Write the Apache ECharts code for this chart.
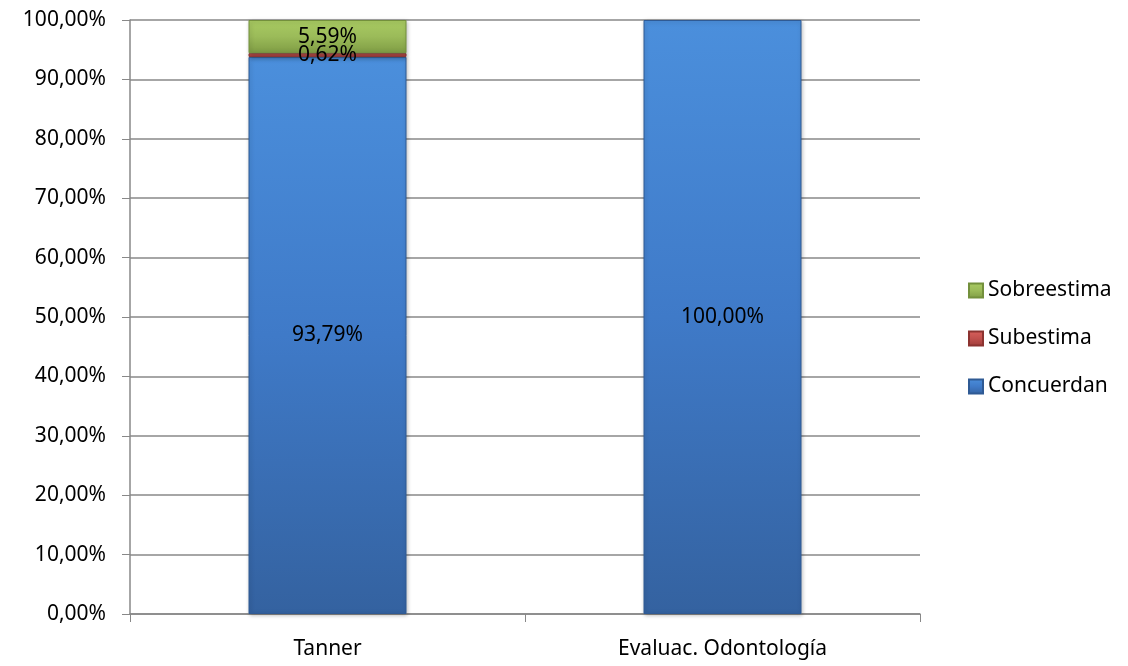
<!DOCTYPE html>
<html>
<head>
<meta charset="utf-8">
<script src="https://cdn.jsdelivr.net/npm/echarts@6/dist/echarts.min.js"></script>
<style>
  html, body { margin: 0; padding: 0; background: #fff; }
  #chart { width: 1128px; height: 666px; }
</style>
</head>
<body>
<div id="chart"></div>
<script>
const categories = ['Tanner', 'Evaluac. Odontología']
const concuerdan = [93.79, 100]
const subestima = [0.62, 0]
const sobreestima = [5.59, 0]
const legendOrder = ['Sobreestima', 'Subestima', 'Concuerdan']

const FONT = '"Noto Sans", "Open Sans", sans-serif'
const fmt = v => v.toFixed(2).replace('.', ',') + '%'

const grad = (top, mid, bottom) => new echarts.graphic.LinearGradient(0, 0, 0, 1, [
  { offset: 0, color: top },
  { offset: 0.5, color: mid },
  { offset: 1, color: bottom }
])

const chart = echarts.init(document.getElementById('chart'))

const makeSeries = (name, data, colors) => ({
  name,
  type: 'bar',
  stack: 'total',
  // zero segments are left out so they leave no border line
  data: data.map(v => (v === 0 ? '-' : v)),
  barWidth: '40%',
  itemStyle: {
    color: grad(colors[0], colors[1], colors[2]),
    borderColor: colors[3],
    borderWidth: 1,
    shadowColor: 'rgba(0,0,0,0.25)',
    shadowBlur: 4,
    shadowOffsetX: 1,
    shadowOffsetY: 1
  },
  label: {
    show: true,
    position: 'inside',
    color: '#000',
    fontSize: 21,
    fontFamily: FONT,
    formatter: p => fmt(p.value)
  },
  emphasis: { disabled: true }
})

chart.setOption({
  animation: false,
  grid: { left: 130, right: 208, top: 20, bottom: 52, containLabel: false },
  legend: {
    orient: 'vertical',
    left: 963,
    top: 275,
    itemWidth: 14,
    itemHeight: 14,
    itemGap: 27,
    icon: 'rect',
    data: legendOrder,
    textStyle: { fontSize: 21, color: '#000', fontFamily: FONT }
  },
  xAxis: {
    type: 'category',
    data: categories,
    boundaryGap: true,
    axisLine: { lineStyle: { color: '#888', width: 1.5 } },
    axisTick: { show: true, length: 8, lineStyle: { color: '#888' } },
    axisLabel: { color: '#000', fontSize: 21, margin: 25, fontFamily: FONT }
  },
  yAxis: {
    type: 'value',
    min: 0,
    max: 100,
    interval: 10,
    axisLine: { show: true, lineStyle: { color: '#888', width: 1.5 } },
    axisTick: { show: true, length: 8, lineStyle: { color: '#888' } },
    splitLine: { lineStyle: { color: '#888', width: 1.5 } },
    axisLabel: {
      color: '#000',
      fontSize: 21,
      margin: 24,
      fontFamily: FONT,
      formatter: v => fmt(v)
    }
  },
  series: [
    makeSeries('Concuerdan', concuerdan, ['#4b8fdc', '#3f7ac8', '#3462a0', '#2f5a94']),
    makeSeries('Subestima', subestima, ['#d9605c', '#c0504d', '#9e3b38', '#8c3330']),
    makeSeries('Sobreestima', sobreestima, ['#a9cb62', '#9bbb59', '#7f9c44', '#73903c'])
  ]
})
</script>
</body>
</html>
